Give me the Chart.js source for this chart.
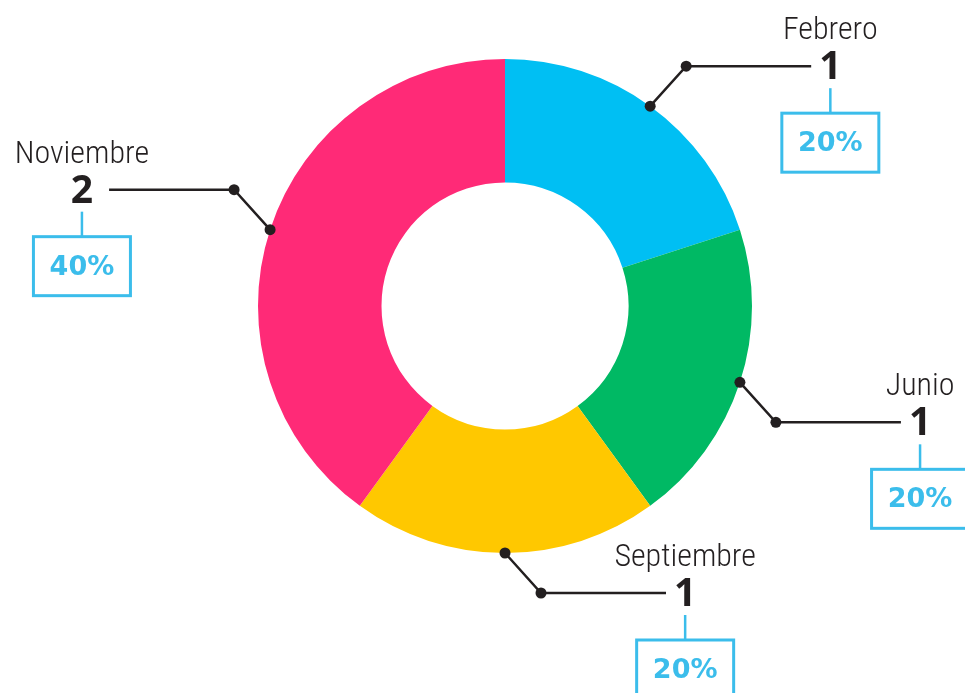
<!DOCTYPE html>
<html>
<head>
<meta charset="utf-8">
<style>
html,body{margin:0;padding:0;background:#fff;}
canvas{display:block;}
</style>
<script src="https://cdn.jsdelivr.net/npm/chart.js@4/dist/chart.umd.min.js"></script>
</head>
<body>
<canvas id="c" width="965" height="693"></canvas>
<script>
const categories = ["Febrero", "Junio", "Septiembre", "Noviembre"];
const counts = [1, 1, 1, 2];
const colors = ["#00BFF3", "#00B964", "#FFC800", "#FF2A77"];

const total = counts.reduce((a, b) => a + b, 0);
const percentLabels = counts.map(v => Math.round(v / total * 100) + "%");

const DARK = "#231F20";
const BLUE = "#3BBDEB";
const nameFont = '300 32px "Liberation Sans Narrow", "Roboto Condensed", Roboto, sans-serif';
const numFont = 'bold 39px "Noto Sans", Roboto, sans-serif';
const pctFont = 'bold 27px "DejaVu Sans", "Noto Sans", sans-serif';

const calloutPlugin = {
  id: "callouts",
  afterDraw(chart) {
    const ctx = chart.ctx;
    const meta = chart.getDatasetMeta(0);
    meta.data.forEach((arc, i) => {
      const p = arc.getProps(["x", "y", "startAngle", "endAngle", "outerRadius"], true);
      const mid = (p.startAngle + p.endAngle) / 2;
      const cx = Math.cos(mid), cy = Math.sin(mid);
      const sx = cx >= 0 ? 1 : -1;
      const sy = cy > 0.0001 ? 1 : -1;
      const ax = p.x + cx * p.outerRadius;
      const ay = p.y + cy * p.outerRadius;
      const ex = ax + sx * 36;
      const ey = ay + sy * 40;
      const lx = ex + sx * 125;

      ctx.save();
      ctx.strokeStyle = DARK;
      ctx.fillStyle = DARK;
      ctx.lineWidth = 2.5;
      ctx.beginPath();
      ctx.moveTo(ax, ay);
      ctx.lineTo(ex, ey);
      ctx.lineTo(lx, ey);
      ctx.stroke();
      [[ax, ay], [ex, ey]].forEach(([px, py]) => {
        ctx.beginPath();
        ctx.arc(px, py, 5.5, 0, Math.PI * 2);
        ctx.fill();
      });

      ctx.font = numFont;
      const numTxt = String(counts[i]);
      const nw = ctx.measureText(numTxt).width;
      let centerX = sx > 0 ? lx + 8 + nw / 2 : lx - 16 - nw / 2;
      ctx.textAlign = "center";
      ctx.textBaseline = "middle";
      ctx.fillText(numTxt, centerX, ey + 2);

      ctx.font = nameFont;
      ctx.fillText(categories[i], centerX, ey - 35);

      ctx.strokeStyle = BLUE;
      ctx.lineWidth = 2.5;
      ctx.beginPath();
      ctx.moveTo(centerX, ey + 22);
      ctx.lineTo(centerX, ey + 47);
      ctx.stroke();
      ctx.lineWidth = 3;
      ctx.strokeRect(centerX - 48.5, ey + 47, 97, 59);
      ctx.fillStyle = BLUE;
      ctx.font = pctFont;
      ctx.fillText(percentLabels[i], centerX, ey + 78);
      ctx.restore();
    });
  }
};

new Chart(document.getElementById("c"), {
  type: "doughnut",
  data: {
    labels: categories,
    datasets: [{
      data: counts,
      backgroundColor: colors,
      borderWidth: 0,
      hoverOffset: 0
    }]
  },
  options: {
    responsive: false,
    animation: false,
    cutout: "50%",
    layout: { padding: { top: 59, bottom: 140, left: 200, right: 155 } },
    plugins: { legend: { display: false }, tooltip: { enabled: false } },
    events: []
  },
  plugins: [calloutPlugin]
});
</script>
</body>
</html>
